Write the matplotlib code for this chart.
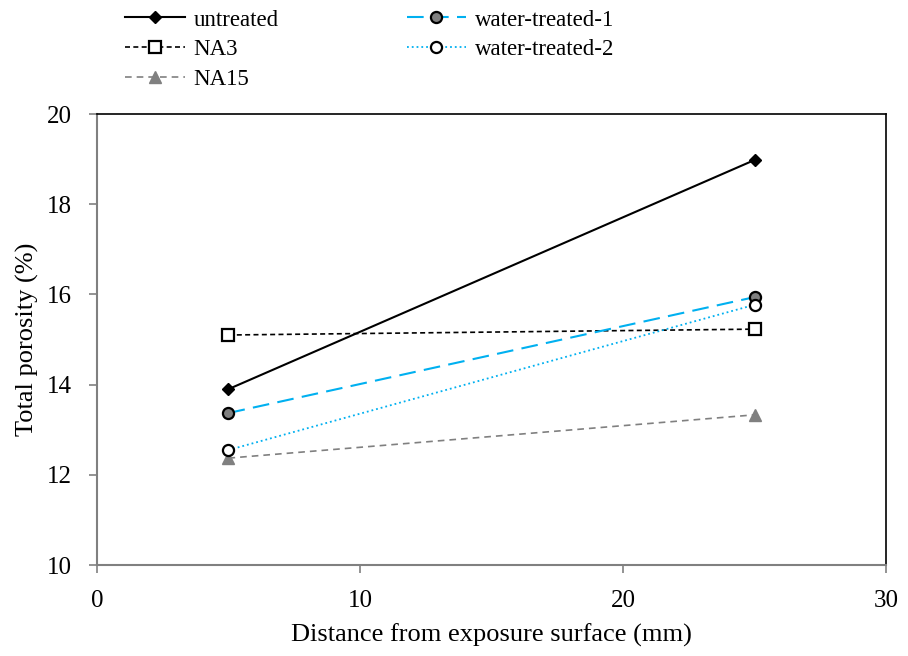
import matplotlib.pyplot as plt

plt.rcParams['font.family'] = ['Liberation Serif', 'DejaVu Serif']

dist = [5, 25]
untreated = [13.90, 18.98]
na3 = [15.10, 15.23]
na15 = [12.37, 13.33]
wt1 = [13.37, 15.94]
wt2 = [12.55, 15.77]

fig = plt.figure(figsize=(9.08, 6.56), dpi=100)
ax = fig.add_axes([0.1068, 0.1387, 0.869, 0.6875])

l1, = ax.plot(dist, untreated, '-', color='black', lw=1.5, marker='D', ms=6,
              mfc='black', mec='black', label='untreated')
l2, = ax.plot(dist, na3, '--', color='black', lw=1.2, dashes=(3, 2), marker='s', ms=8,
              mfc='white', mec='black', mew=1.6, label='NA3')
l3, = ax.plot(dist, na15, '--', color='#808080', lw=1.2, dashes=(4, 3), marker='^', ms=8,
              mfc='#808080', mec='#808080', label='NA15')
l4, = ax.plot(dist, wt1, '--', color='#00B0F0', lw=1.5, dashes=(8, 4), marker='o', ms=8,
              mfc='#808080', mec='black', mew=1.6, label='water-treated-1')
l5, = ax.plot(dist, wt2, ':', color='#00B0F0', lw=1.3, marker='o', ms=8,
              mfc='white', mec='black', mew=1.6, label='water-treated-2')

ax.set_xlim(0, 30)
ax.set_ylim(10, 20)
ax.set_xticks([0, 10, 20, 30])
ax.set_yticks([10, 12, 14, 16, 18, 20])
ax.tick_params(labelsize=18, direction='out', length=6, color='#808080', width=1.2)
ax.tick_params(axis='y', pad=12)
ax.tick_params(axis='x', pad=12)
ax.set_xlabel('Distance from exposure surface (mm)', fontsize=19, labelpad=8)
ax.set_ylabel('Total porosity (%)', fontsize=19, labelpad=6)

for s in ['left', 'bottom']:
    ax.spines[s].set_color('#808080')
    ax.spines[s].set_linewidth(1.5)
for s in ['top', 'right']:
    ax.spines[s].set_color('black')
    ax.spines[s].set_linewidth(1.2)

fig.legend(handles=[l1, l2, l3], loc='upper left', bbox_to_anchor=(0.115, 1.017),
           frameon=False, fontsize=16.5, handlelength=2.6, labelspacing=0.38,
           handletextpad=0.4)
fig.legend(handles=[l4, l5], loc='upper left', bbox_to_anchor=(0.425, 1.017),
           frameon=False, fontsize=16.5, handlelength=2.6, labelspacing=0.38,
           handletextpad=0.4)

fig.savefig('out.png', dpi=100)
